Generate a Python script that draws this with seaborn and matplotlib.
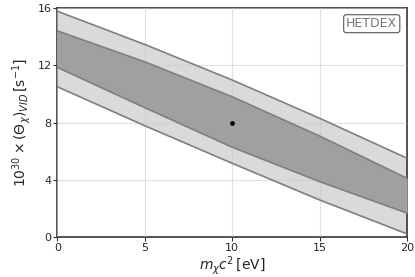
import matplotlib
matplotlib.use("Agg")
import matplotlib.pyplot as plt
import seaborn as sns
import numpy as np
import pandas as pd

# data
mass = [0, 5, 10, 15, 20]
outer_upper = [15.78, 13.46, 10.98, 8.31, 5.52]
inner_upper = [14.41, 12.25, 9.81, 7.07, 4.12]
inner_lower = [11.86, 9.05, 6.29, 3.89, 1.69]
outer_lower = [10.51, 7.79, 5.17, 2.61, 0.24]
point_x = [10]
point_y = [8]
xticks = [0, 5, 10, 15, 20]
yticks = [0, 4, 8, 12, 16]

sns.set_style("whitegrid")
plt.rcParams['font.family'] = ['DejaVu Sans']

fig = plt.figure(figsize=(4.15, 2.77), dpi=100)
ax = fig.add_axes([0.138, 0.143, 0.843, 0.828])

ax.fill_between(mass, outer_lower, outer_upper, color="#dadada", lw=0, zorder=2)
ax.fill_between(mass, inner_lower, inner_upper, color="#a0a0a0", lw=0, zorder=3)

df = pd.DataFrame({"m": mass, "ou": outer_upper, "iu": inner_upper,
                   "il": inner_lower, "ol": outer_lower})
for col in ["ou", "iu", "il", "ol"]:
    sns.lineplot(data=df, x="m", y=col, ax=ax, color="#7f7f7f", lw=1.2, zorder=4)

sns.scatterplot(x=point_x, y=point_y, ax=ax, color="black", s=10, marker="o",
                edgecolor="black", zorder=6)

ax.set_xlim(0, 20)
ax.set_ylim(0, 16)
ax.set_xticks(xticks)
ax.set_yticks(yticks)
ax.grid(True, color="#cccccc", lw=0.8, zorder=1)
ax.set_axisbelow(False)
for ln in ax.get_xgridlines() + ax.get_ygridlines():
    ln.set_zorder(5)
    ln.set_alpha(0.6)

for s in ax.spines.values():
    s.set_visible(True)
    s.set_color("#333333")
    s.set_linewidth(1.2)

ax.tick_params(axis="both", which="both", direction="out", length=3, width=0.8,
               color="#333333", labelsize=8, pad=1, bottom=True, left=True)

ax.set_xlabel(r"$m_\chi c^2\,$[eV]", fontsize=10, labelpad=1)
ax.set_ylabel(r"$10^{30}\times\left(\Theta_\chi\right)_{VID}\,$[s$^{-1}$]", fontsize=10, labelpad=3)

ax.text(0.972, 0.96, "HETDEX", transform=ax.transAxes, ha="right", va="top",
        fontsize=9, color="#777777", zorder=10,
        bbox=dict(boxstyle="round,pad=0.2", fc="white", ec="#555555", lw=0.8))

fig.savefig("out.png", dpi=100)
